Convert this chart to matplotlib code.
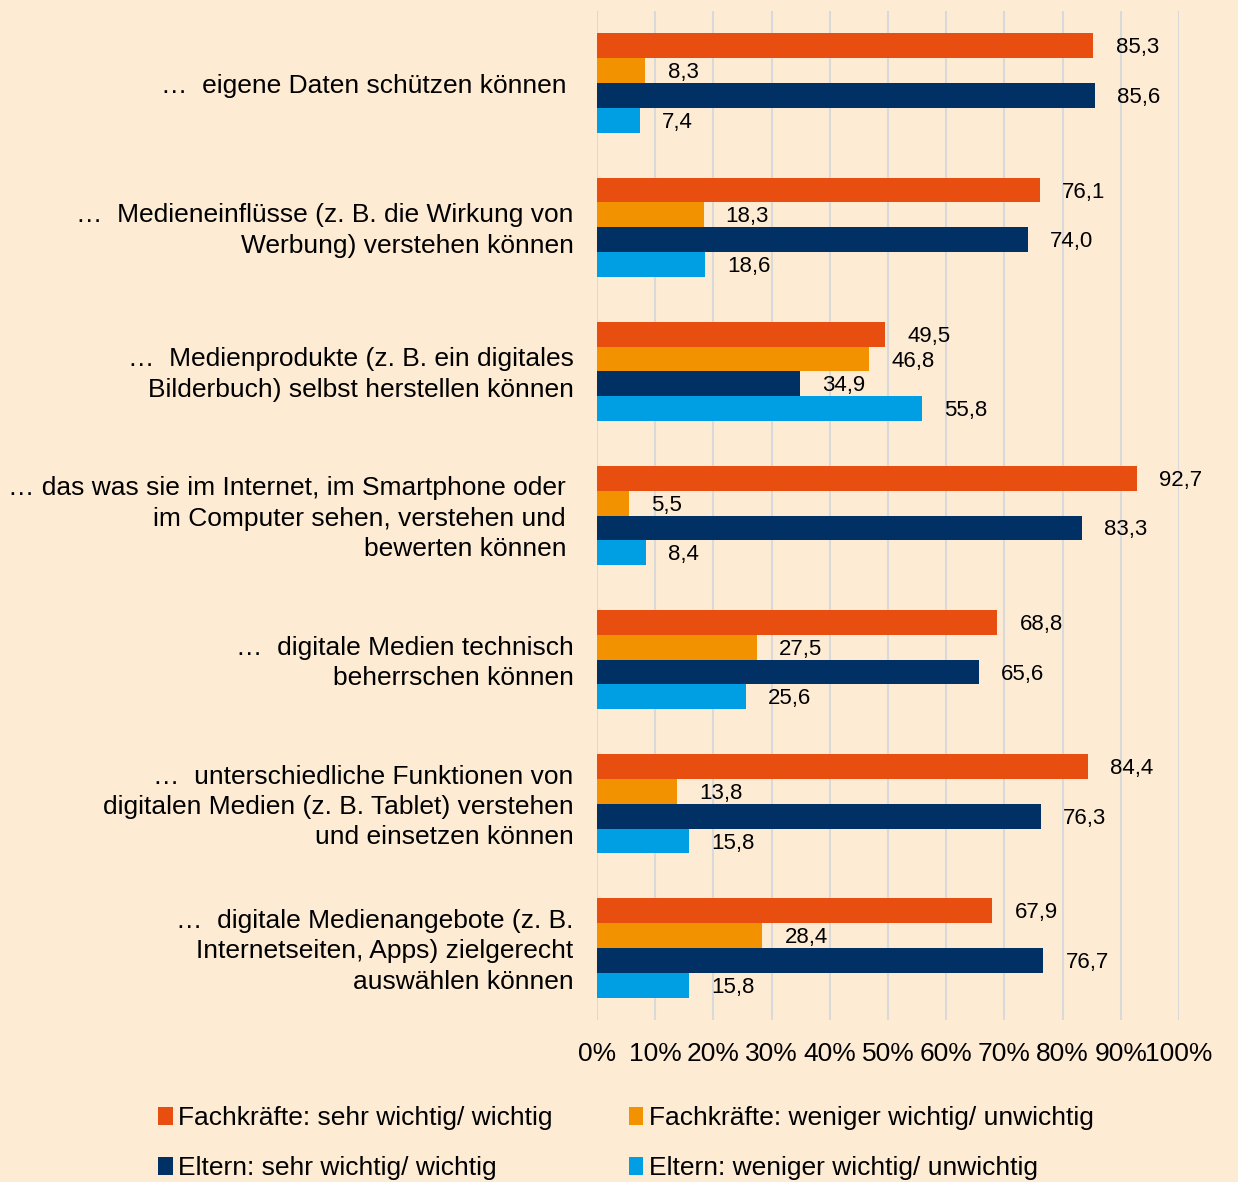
import matplotlib.pyplot as plt
import matplotlib.transforms as mtransforms
from matplotlib.patches import Patch
import numpy as np

plt.rcParams['font.family'] = ['Liberation Sans', 'DejaVu Sans']

# Data
categories = [
    "…  eigene Daten schützen können ",
    "…  Medieneinflüsse (z. B. die Wirkung von\nWerbung) verstehen können",
    "…  Medienprodukte (z. B. ein digitales\nBilderbuch) selbst herstellen können",
    "… das was sie im Internet, im Smartphone oder \nim Computer sehen, verstehen und \nbewerten können ",
    "…  digitale Medien technisch\nbeherrschen können",
    "…  unterschiedliche Funktionen von\ndigitalen Medien (z. B. Tablet) verstehen\nund einsetzen können",
    "…  digitale Medienangebote (z. B.\nInternetseiten, Apps) zielgerecht\nauswählen können",
]
fach_wichtig = [85.3, 76.1, 49.5, 92.7, 68.8, 84.4, 67.9]
fach_unwichtig = [8.3, 18.3, 46.8, 5.5, 27.5, 13.8, 28.4]
eltern_wichtig = [85.6, 74.0, 34.9, 83.3, 65.6, 76.3, 76.7]
eltern_unwichtig = [7.4, 18.6, 55.8, 8.4, 25.6, 15.8, 15.8]

series_names = [
    "Fachkräfte: sehr wichtig/ wichtig",
    "Fachkräfte: weniger wichtig/ unwichtig",
    "Eltern: sehr wichtig/ wichtig",
    "Eltern: weniger wichtig/ unwichtig",
]
colors = ['#E84E10', '#F39200', '#003064', '#009FE3']
bg = '#FDEBD4'

fig = plt.figure(figsize=(12.38, 11.82), dpi=100, facecolor=bg)
ax = fig.add_axes([597 / 1238, 1 - 1020 / 1182, 582 / 1238, 1009 / 1182])
ax.set_facecolor(bg)

y = np.arange(len(categories))
h = 0.172
all_series = [fach_wichtig, fach_unwichtig, eltern_wichtig, eltern_unwichtig]
for k, (vals, col) in enumerate(zip(all_series, colors)):
    pos = y + (k - 1.5) * h
    ax.barh(pos, vals, height=h, color=col, zorder=3)
    for p, v in zip(pos, vals):
        ax.annotate(f"{v:.1f}".replace('.', ','), (v, p), xytext=(16, -1.5),
                    textcoords='offset points', va='center', ha='left',
                    fontsize=16, color='black', zorder=4)

ax.set_xlim(0, 100)
ax.set_ylim(len(categories) - 0.5, -0.5)
ax.set_xticks(np.arange(0, 101, 10))
ax.set_xticklabels([f"{t}%" for t in range(0, 101, 10)])
ax.set_yticks(y)
ax.set_yticklabels(categories, fontsize=19, linespacing=1.34)
ax.tick_params(axis='y', length=0, pad=17)
ax.tick_params(axis='x', length=0, pad=15.5, labelsize=19)
ax.grid(axis='x', color='#D9D9D9', linewidth=1.5, zorder=0)
for s in ax.spines.values():
    s.set_visible(False)

# nudge multi-line category labels up a little
shift = mtransforms.ScaledTranslation(0, 0.025, fig.dpi_scale_trans)
for lab in ax.get_yticklabels():
    if '\n' in lab.get_text():
        lab.set_transform(lab.get_transform() + shift)

# legend fills column-wise, so reorder to get row-wise reading
order = [0, 2, 1, 3]
handles = [Patch(facecolor=colors[i], edgecolor='none') for i in order]
labels = [series_names[i] for i in order]
fig.legend(handles, labels, loc='upper left',
           bbox_to_anchor=(158 / 1238, 1 - 1106 / 1182), ncol=2,
           frameon=False, fontsize=19, handlelength=0.55, handleheight=0.65,
           handletextpad=0.2, columnspacing=2.9, labelspacing=1.0,
           borderpad=0, borderaxespad=0)

plt.savefig('out.png', dpi=100, facecolor=bg)
